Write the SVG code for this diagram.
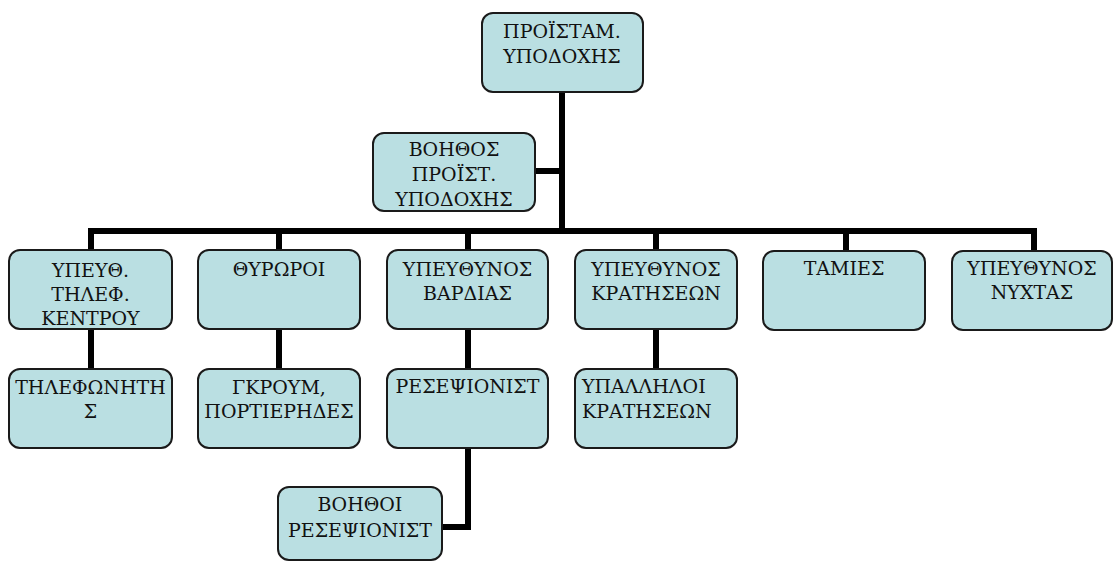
<svg xmlns="http://www.w3.org/2000/svg" width="1114" height="561" viewBox="0 0 1114 561">
<style>
.box{fill:#BADFE2;stroke:#1a1a1a;stroke-width:2}
.t{font-family:"DejaVu Serif",serif;font-size:19px;fill:#111;text-anchor:middle}
.tl{text-anchor:start}
.c{fill:none;stroke:#000;stroke-width:6;stroke-linejoin:miter;stroke-linecap:butt}
</style>
<rect width="1114" height="561" fill="#fff"/>
<g id="connectors">
<path class="c" d="M562 92V234"/>
<path class="c" d="M535 171H562"/>
<path class="c" d="M91 250V231H1034V250"/>
<path class="c" d="M279 231V250"/>
<path class="c" d="M468 231V250"/>
<path class="c" d="M656 231V250"/>
<path class="c" d="M846 231V251"/>
<path class="c" d="M91 329V369"/>
<path class="c" d="M279 329V369"/>
<path class="c" d="M468 329V369"/>
<path class="c" d="M656 329V369"/>
<path class="c" d="M468 448V527H442"/>
</g>
<g id="n-head"><rect class="box" x="482" y="13" width="161" height="79" rx="11"/><text class="t" x="562" y="38">ΠΡΟΪΣΤΑΜ.</text><text class="t" x="562" y="63">ΥΠΟΔΟΧΗΣ</text></g>
<g id="n-assistant"><rect class="box" x="373" y="133" width="162" height="78" rx="11"/><text class="t" x="454" y="156">ΒΟΗΘΟΣ</text><text class="t" x="454" y="181">ΠΡΟΪΣΤ.</text><text class="t" x="454" y="206">ΥΠΟΔΟΧΗΣ</text></g>
<g id="n-tel"><rect class="box" x="9" y="250" width="163" height="79" rx="11"/><text class="t" x="90.5" y="277">ΥΠΕΥΘ.</text><text class="t" x="90.5" y="301">ΤΗΛΕΦ.</text><text class="t" x="90.5" y="325">ΚΕΝΤΡΟΥ</text></g>
<g id="n-doormen"><rect class="box" x="198" y="250" width="162" height="79" rx="11"/><text class="t" x="279" y="276">ΘΥΡΩΡΟΙ</text></g>
<g id="n-shift"><rect class="box" x="387" y="250" width="161" height="79" rx="11"/><text class="t" x="467.5" y="276">ΥΠΕΥΘΥΝΟΣ</text><text class="t" x="467.5" y="300">ΒΑΡΔΙΑΣ</text></g>
<g id="n-reserv"><rect class="box" x="575" y="250" width="162" height="79" rx="11"/><text class="t" x="656" y="276">ΥΠΕΥΘΥΝΟΣ</text><text class="t" x="656" y="300">ΚΡΑΤΗΣΕΩΝ</text></g>
<g id="n-cashiers"><rect class="box" x="763" y="251" width="162" height="79" rx="11"/><text class="t" x="844" y="275">ΤΑΜΙΕΣ</text></g>
<g id="n-night"><rect class="box" x="952" y="251" width="160" height="79" rx="11"/><text class="t" x="1032" y="275">ΥΠΕΥΘΥΝΟΣ</text><text class="t" x="1032" y="299">ΝΥΧΤΑΣ</text></g>
<g id="n-operator"><rect class="box" x="9" y="369" width="163" height="79" rx="11"/><text class="t" x="90.5" y="394">ΤΗΛΕΦΩΝΗΤΗ</text><text class="t" x="90.5" y="418">Σ</text></g>
<g id="n-groom"><rect class="box" x="198" y="369" width="162" height="79" rx="11"/><text class="t" x="279" y="394">ΓΚΡΟΥΜ,</text><text class="t" x="279" y="418">ΠΟΡΤΙΕΡΗΔΕΣ</text></g>
<g id="n-reception"><rect class="box" x="387" y="369" width="161" height="79" rx="11"/><text class="t" x="467.5" y="393">ΡΕΣΕΨΙΟΝΙΣΤ</text></g>
<g id="n-resclerks"><rect class="box" x="575" y="369" width="162" height="79" rx="11"/><text class="t tl" x="582" y="393">ΥΠΑΛΛΗΛΟΙ</text><text class="t tl" x="582" y="418">ΚΡΑΤΗΣΕΩΝ</text></g>
<g id="n-recassist"><rect class="box" x="278" y="487" width="164" height="73" rx="11"/><text class="t" x="360" y="511">ΒΟΗΘΟΙ</text><text class="t" x="360" y="537">ΡΕΣΕΨΙΟΝΙΣΤ</text></g>
</svg>
